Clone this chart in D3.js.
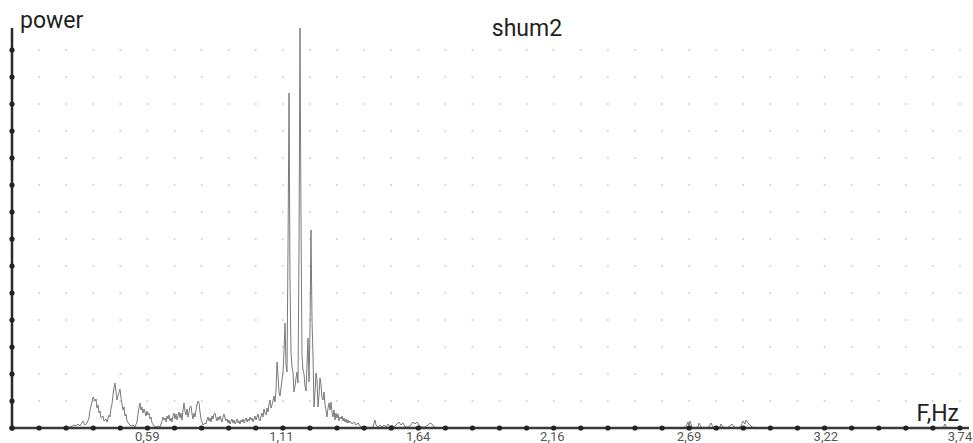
<!DOCTYPE html>
<html>
<head>
<meta charset="utf-8">
<script src="https://cdn.jsdelivr.net/npm/d3@7"></script>
<style>
  html, body { margin: 0; padding: 0; background: #fff; }
</style>
</head>
<body>
<div id="chart"></div>
<script>
(function () {
	// Spectrum bins: [bin index, power] (power in arbitrary units, 400 = top of axis)
	const BIN_HZ = 3.74 / 965;
	const BIN_FIRST = 17;
	const BIN_LAST = 965;

	const LOW_BAND = [
		[17, 0], [65, 0], [71, 0], [75, 1], [79, 3], [81, 2], [83, 4], [85, 2], [88, 7], [90, 3],
		[92, 5], [94, 10], [95, 18], [97, 26], [98, 31], [100, 27], [101, 29], [102, 20], [103, 23],
		[104, 15], [105, 17], [106, 10], [108, 12], [109, 7], [111, 9], [112, 6], [114, 13], [115, 11],
		[116, 20], [117, 24], [118, 33], [119, 40], [120, 45], [121, 36], [122, 28], [123, 32],
		[124, 36], [125, 39], [126, 30], [127, 24], [128, 18], [129, 21], [130, 12], [131, 14],
		[132, 7], [134, 4], [136, 2], [138, 3], [140, 1], [142, 6], [143, 14], [144, 20], [145, 25],
		[146, 18], [147, 21], [148, 15], [149, 19], [150, 16], [151, 12], [152, 17], [153, 13],
		[154, 15], [155, 9], [156, 11], [157, 5], [159, 2], [161, 1], [163, 2], [165, 1], [167, 7],
		[168, 11], [169, 8], [170, 10], [171, 6], [172, 12], [173, 9], [174, 13], [175, 7], [176, 10],
		[177, 6], [178, 12], [179, 15], [180, 9], [181, 14], [182, 8], [183, 12], [184, 16], [185, 10],
		[186, 15], [187, 8], [188, 18], [189, 25], [190, 17], [191, 13], [192, 19], [193, 11],
		[194, 16], [195, 21], [196, 22], [197, 14], [198, 9], [199, 15], [200, 11], [201, 18],
		[202, 24], [203, 27], [204, 25], [205, 16], [206, 9], [207, 6], [208, 3], [210, 5], [211, 4],
		[212, 8], [213, 11], [214, 7], [215, 10], [216, 6], [217, 12], [218, 9], [219, 14], [220, 15],
		[221, 10], [222, 7], [223, 11], [224, 8], [225, 12], [226, 9], [227, 6], [228, 11], [229, 14],
		[230, 10], [231, 7], [232, 9], [233, 5], [234, 8], [235, 4], [236, 7], [237, 9], [238, 5],
		[239, 8], [240, 4], [241, 6], [242, 9], [243, 5], [244, 7], [245, 4], [246, 8], [247, 6],
		[248, 9], [249, 5], [250, 8], [251, 10], [252, 6], [253, 9], [254, 7], [255, 11], [256, 8],
		[257, 10], [258, 6], [259, 9], [260, 12], [261, 8], [262, 11], [263, 14], [264, 9], [265, 7],
		[266, 12], [267, 15], [268, 11], [269, 19], [270, 15], [271, 13], [272, 20], [273, 16],
		[274, 24], [275, 28], [276, 20], [277, 23], [278, 27], [279, 32], [280, 26], [281, 38]
	];

	const PEAK_BAND = [
		[282, 66], [283, 53], [284, 36], [285, 32], [286, 40], [287, 48], [288, 56], [289, 76],
		[290, 105], [291, 63], [292, 56], [293, 178], [294, 335], [295, 148], [296, 76], [297, 61],
		[298, 56], [299, 36], [300, 42], [301, 50], [302, 56], [303, 45], [304, 178], [305, 400],
		[306, 208], [307, 73], [308, 58], [309, 54], [310, 42], [311, 37], [312, 63], [313, 90],
		[314, 46], [315, 98], [316, 198], [317, 108], [318, 72], [319, 21], [320, 36], [321, 55],
		[322, 48], [323, 21], [324, 33], [325, 50], [326, 43], [327, 30], [328, 28], [329, 36],
		[330, 23], [331, 18], [332, 11], [333, 20], [334, 25], [335, 18], [336, 26], [337, 16]
	];

	const TAIL_BAND = [
		[338, 11], [339, 18], [340, 8], [341, 15], [342, 10], [343, 14], [344, 7], [345, 11],
		[346, 9], [347, 12], [348, 7], [349, 10], [350, 6], [351, 9], [352, 5], [353, 8], [354, 5],
		[355, 7], [357, 4], [359, 6], [361, 3], [363, 5], [365, 2], [367, 1], [371, 1], [375, 0],
		[378, 1], [380, 8], [381, 3], [383, 1], [385, 3], [387, 1], [389, 3], [391, 1], [393, 4],
		[395, 1], [397, 3], [399, 1], [402, 4], [404, 6], [406, 3], [408, 5], [410, 1], [413, 1],
		[416, 3], [418, 6], [420, 4], [422, 6], [424, 3], [426, 1], [430, 1], [433, 3], [435, 5],
		[437, 4], [439, 1], [443, 0]
	];

	const HIGH_BAND = [
		[685, 0], [691, 1], [693, 6], [694, 2], [695, 7], [697, 1], [699, 0], [703, 1], [704, 5],
		[706, 1], [709, 0], [714, 1], [716, 5], [718, 1], [721, 0], [725, 1], [726, 4], [728, 1],
		[732, 0], [735, 2], [737, 4], [739, 1], [743, 0], [746, 2], [748, 7], [750, 4], [751, 8],
		[753, 5], [755, 3], [757, 1], [761, 0], [948, 0], [950, 4], [952, 0], [965, 0]
	];

	const TICK_HZ = [0.59, 1.11, 1.64, 2.16, 2.69, 3.22, 3.74];
	const TICK_LABELS = ["0,59", "1,11", "1,64", "2,16", "2,69", "3,22", "3,74"];

	const TITLE = "shum2";
	const Y_LABEL = "power";
	const X_LABEL = "F,Hz";

	// Layout
	const width = 973;
	const height = 443;
	const plot = { left: 12, right: 960, top: 28, bottom: 428 };
	const GRID_COLS = 35;
	const GRID_ROW_STEP = 27;
	const GRID_ROWS = 14;

	const FONT = "Roboto, 'Noto Sans', sans-serif";

	const svg = d3
		.select("#chart")
		.append("svg")
		.attr("width", width)
		.attr("height", height);

	const x = d3.scaleLinear().domain([BIN_FIRST * BIN_HZ, BIN_LAST * BIN_HZ]).range([plot.left, plot.right]);
	const y = d3.scaleLinear().domain([0, 400]).range([plot.bottom, plot.top]);

	const colHz = d3.range(GRID_COLS + 1).map(k => x.domain()[0] + (k * (x.domain()[1] - x.domain()[0])) / GRID_COLS);
	const rowPow = d3.range(GRID_ROWS + 1).map(k => k * GRID_ROW_STEP);

	// grid dots
	const gridPts = [];
	colHz.slice(1).forEach(f => rowPow.slice(1).forEach(p => gridPts.push([f, p])));
	svg.append("g")
		.selectAll("circle")
		.data(gridPts)
		.join("circle")
		.attr("cx", d => x(d[0]))
		.attr("cy", d => y(d[1]))
		.attr("r", 1)
		.attr("fill", "#cfcfcf");

	// spectrum
	const spectrum = [].concat(LOW_BAND, PEAK_BAND, TAIL_BAND, HIGH_BAND);
	const line = d3.line().x(d => x(d[0] * BIN_HZ)).y(d => y(d[1]));
	svg.append("path")
		.datum(spectrum)
		.attr("d", line)
		.attr("fill", "none")
		.attr("stroke", "#7a7a7a")
		.attr("stroke-width", 1)
		.attr("stroke-linejoin", "round");

	// axes
	svg.append("line")
		.attr("x1", plot.left).attr("x2", width - 4)
		.attr("y1", y(0)).attr("y2", y(0))
		.attr("stroke", "#3a3a3a")
		.attr("stroke-width", 2.5);
	svg.append("line")
		.attr("x1", plot.left).attr("x2", plot.left)
		.attr("y1", y(400)).attr("y2", y(0))
		.attr("stroke", "#2a2a2a")
		.attr("stroke-width", 2.5);

	svg.append("g")
		.selectAll("circle")
		.data(colHz)
		.join("circle")
		.attr("cx", d => x(d))
		.attr("cy", y(0))
		.attr("r", 2.6)
		.attr("fill", "#222");
	svg.append("g")
		.selectAll("circle")
		.data(rowPow)
		.join("circle")
		.attr("cx", plot.left)
		.attr("cy", d => y(d))
		.attr("r", 2.6)
		.attr("fill", "#222");

	// tick labels
	svg.append("g")
		.selectAll("text")
		.data(TICK_HZ)
		.join("text")
		.attr("x", d => x(d))
		.attr("y", 441)
		.attr("text-anchor", "middle")
		.style("font-family", FONT)
		.style("font-size", "13px")
		.style("fill", "#555")
		.text((d, i) => TICK_LABELS[i]);

	// labels
	svg.append("text")
		.attr("x", 20)
		.attr("y", 28)
		.style("font-family", FONT)
		.style("font-size", "23px")
		.style("fill", "#222")
		.text(Y_LABEL);

	svg.append("text")
		.attr("x", 527)
		.attr("y", 36)
		.attr("text-anchor", "middle")
		.style("font-family", FONT)
		.style("font-size", "23px")
		.style("fill", "#222")
		.text(TITLE);

	svg.append("text")
		.attr("x", 959)
		.attr("y", 421)
		.attr("text-anchor", "end")
		.style("font-family", FONT)
		.style("font-size", "23px")
		.style("fill", "#222")
		.text(X_LABEL);
})();
</script>
</body>
</html>
